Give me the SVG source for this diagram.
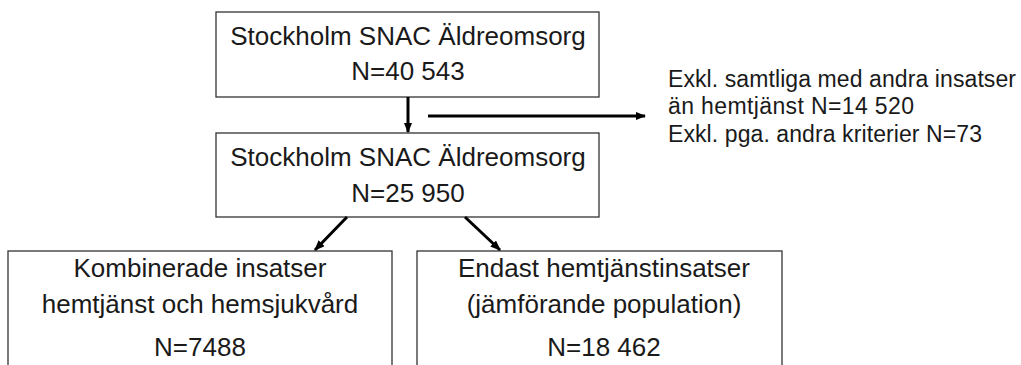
<svg xmlns="http://www.w3.org/2000/svg" width="1021" height="365" viewBox="0 0 1021 365">
<style>
.box{fill:#fff;stroke:#333;stroke-width:1.3}
.t{font-family:"Liberation Sans",Arial,sans-serif;font-size:26px;fill:#1a1a1a;text-anchor:middle}
.s{font-family:"Liberation Sans",Arial,sans-serif;font-size:23px;fill:#1a1a1a}
.c{stroke:#000;stroke-width:3;fill:none}
</style>
<defs>
<marker id="ah" viewBox="0 0 10 10" refX="9" refY="5" markerWidth="3.5" markerHeight="2.8" markerUnits="strokeWidth" orient="auto" preserveAspectRatio="none">
<path d="M0,0 L10,5 L0,10 Z" fill="#000"/>
</marker>
</defs>
<rect width="1021" height="365" fill="#fff"/>
<g id="n1">
<rect class="box" x="216" y="12" width="383" height="85"/>
<text class="t" x="408" y="45">Stockholm SNAC Äldreomsorg</text>
<text class="t" x="408" y="80">N=40 543</text>
</g>
<g id="n2">
<rect class="box" x="216" y="133" width="383" height="84"/>
<text class="t" x="408" y="166">Stockholm SNAC Äldreomsorg</text>
<text class="t" x="408" y="202">N=25 950</text>
</g>
<g id="n3">
<rect class="box" x="8" y="251" width="384" height="120"/>
<text class="t" x="200" y="277">Kombinerade insatser</text>
<text class="t" x="200" y="313">hemtjänst och hemsjukvård</text>
<text class="t" x="200" y="356">N=7488</text>
</g>
<g id="n4">
<rect class="box" x="417" y="251" width="365" height="120"/>
<text class="t" x="604" y="277">Endast hemtjänstinsatser</text>
<text class="t" x="604" y="313">(jämförande population)</text>
<text class="t" x="604" y="356">N=18 462</text>
</g>
<g id="excl">
<text class="s" x="668" y="87" textLength="348" lengthAdjust="spacing">Exkl. samtliga med andra insatser</text>
<text class="s" x="668" y="114" textLength="246" lengthAdjust="spacing">än hemtjänst N=14 520</text>
<text class="s" x="668" y="142" textLength="314" lengthAdjust="spacing">Exkl. pga. andra kriterier N=73</text>
</g>
<g id="connectors">
<line class="c" x1="408" y1="97" x2="408" y2="132" marker-end="url(#ah)"/>
<line class="c" x1="428" y1="116" x2="645" y2="116" marker-end="url(#ah)"/>
<line class="c" x1="347" y1="217" x2="315" y2="250" marker-end="url(#ah)"/>
<line class="c" x1="465" y1="217" x2="500" y2="250" marker-end="url(#ah)"/>
</g>
</svg>
